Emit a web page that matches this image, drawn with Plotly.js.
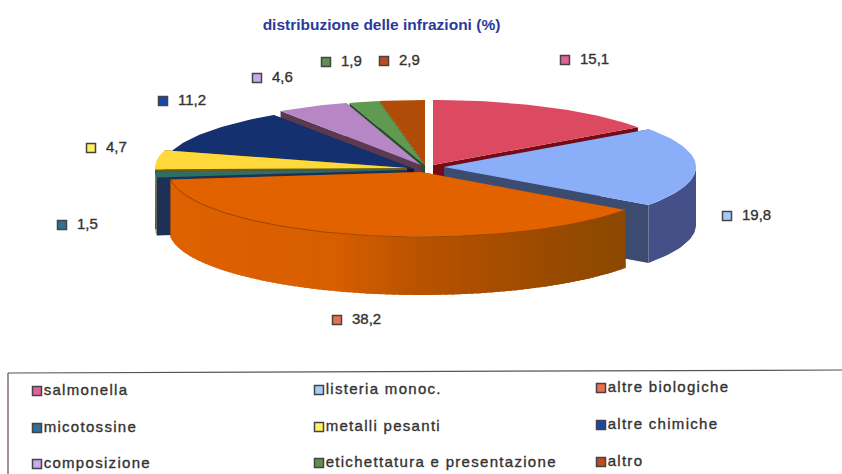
<!DOCTYPE html>
<html><head><meta charset="utf-8">
<script src="https://cdn.plot.ly/plotly-3.0.1.min.js"></script>
<style>
html,body{margin:0;padding:0;background:#fff}
#c{width:842px;height:474px}
.scatterlayer .textpoint text{stroke:#333;stroke-width:.35px}
.scatterlayer .trace.leg .textpoint text{letter-spacing:1.3px}
</style></head><body><div id="c"></div>
<script>
// data
const categories=["salmonella","listeria monoc.","altre biologiche","micotossine","metalli pesanti","altre chimiche","composizione","etichettatura e presentazione","altro"];
const values=[15.1,19.8,38.2,1.5,4.7,11.2,4.6,1.9,2.9];
const valueLabels=["15,1","19,8","38,2","1,5","4,7","11,2","4,6","1,9","2,9"];
// style
const topColors=["#DB4A60","#8AAEF8","#E26200","#2F6F62","#FFD83A","#14306E","#B786C4","#5F9A50","#B04C08"];
const radialWalls=["#780A18","#3C4C70","#7A3A00","#1C3058","#6E5E10","#0C1C40","#5A3A50","#24502A","#5A2A00"];
const outerWalls=["#780A18","#454F88","#E06200","#8A8450","#6E5E10","#0C1C40","#5A3A50","#24502A","#5A2A00"];
const markerColors=["#E0609A","#A8CCF8","#E8704A","#2F6F98","#FFF060","#1A45A8","#C8A8F0","#5F9050","#C04A20"];
// geometry
const rx=252,ry=65,depth=58;
const cxs=[433,444,421,407,407,414,421,424.5,425];
const cys=[165,167,172,170,168,169,165,165,165];
const drawOrder=[8,7,6,5,0,4,3,1,2];
const labelX=[565,727,337,62,91,163,257,326,384];
const labelY=[60,216,320,225,148,101,78,62,61];
const legendX=[37,319,601,37,319,601,37,319,601];
const legendY=[391,390,388,428,427,425,464,463,462];
const orangeStops=[[125.7,[138,72,0]],[150,[154,74,0]],[180,[184,82,0]],[200,[216,94,0]],[264,[224,98,0]]];

const total=values.reduce((a,b)=>a+b,0);
let acc=0;
const starts=[],ends=[];
values.forEach(v=>{starts.push(acc/total*360);acc+=v;ends.push(acc/total*360);});
const pt=(i,a,dz)=>{const r=a*Math.PI/180;return [cxs[i]+rx*Math.sin(r),cys[i]-ry*Math.cos(r)+(dz||0)];};
const arc=(i,a,b,dz)=>{const n=Math.max(2,Math.ceil(Math.abs(b-a)/1.5)),o=[];for(let k=0;k<=n;k++)o.push(pt(i,a+(b-a)*k/n,dz));return o;};
const traces=[];
const poly=(p,c,lw)=>traces.push({type:"scatter",mode:"lines",x:p.map(q=>q[0]),y:p.map(q=>q[1]),fill:"toself",fillcolor:c,line:{color:c,width:lw||0},showlegend:false,hoverinfo:"skip"});
const orangeAt=a=>{for(let k=0;k<orangeStops.length-1;k++){const s=orangeStops[k],e=orangeStops[k+1];if(a<=e[0]){const t=Math.max(0,(a-s[0])/(e[0]-s[0]));return "rgb("+s[1].map((v,j)=>Math.round(v+(e[1][j]-v)*t)).join(",")+")";}}return "rgb(224,98,0)";};
drawOrder.forEach(i=>{
  const a=starts[i],b=ends[i];
  const apex=[cxs[i],cys[i]],apexD=[cxs[i],cys[i]+depth];
  const w1=[apex,pt(i,a),pt(i,a,depth),apexD];
  const w2=[apex,pt(i,b),pt(i,b,depth),apexD];
  poly(w1,radialWalls[i]);poly(w2,radialWalls[i]);
  const l=Math.max(a,90),h=Math.min(b,270);
  if(h>l){
    if(i===2){
      for(let s=l;s<h;s+=1.5){const e=Math.min(s+2.5,h);
        poly(arc(i,s,e).concat(arc(i,e,s,depth)),orangeAt(s+0.75));}
    }else poly(arc(i,l,h).concat(arc(i,h,l,depth)),outerWalls[i]);
  }
  poly([apex].concat(arc(i,a,b)),topColors[i]);
  if(i===2)traces.push({type:"scatter",mode:"lines",x:arc(i,a,b).map(q=>q[0]),y:arc(i,a,b).map(q=>q[1]),line:{color:"#9A4A00",width:1},showlegend:false,hoverinfo:"skip"});
});
// value labels
traces.push({type:"scatter",mode:"markers+text",x:labelX,y:labelY,text:valueLabels.map(t=>"\u00a0\u00a0"+t),textposition:"middle right",cliponaxis:false,
  marker:{symbol:"square",size:9,color:markerColors,line:{color:"#444",width:1.5}},
  textfont:{family:"Liberation Sans, Arial, sans-serif",size:15,color:"#333"},showlegend:false,hoverinfo:"skip"});
// legend entries
traces.push({type:"scatter",mode:"markers+text",x:legendX,y:legendY,text:categories,textposition:"middle right",cliponaxis:false,
  marker:{symbol:"square",size:9,color:markerColors,line:{color:"#444",width:1.5}},
  textfont:{family:"Liberation Sans, Arial, sans-serif",size:15,color:"#333"},showlegend:false,hoverinfo:"skip"});
const ax=(r)=>({range:r,visible:false,fixedrange:true,showgrid:false,zeroline:false});
const layout={width:842,height:474,margin:{l:0,r:0,t:0,b:0},paper_bgcolor:"#fff",plot_bgcolor:"#fff",showlegend:false,
  title:{text:"<b>distribuzione delle infrazioni (%)</b>",x:381.5/842,xanchor:"center",y:1-25/474,yanchor:"middle",font:{family:"Liberation Sans, Arial, sans-serif",size:15.5,color:"#2A3A9A"}},
  xaxis:ax([0,842]),yaxis:ax([474,0]),
  shapes:[
   {type:"line",xref:"x",yref:"y",x0:8,y0:373,x1:842,y1:370,line:{color:"#555",width:1.2}},
   {type:"line",xref:"x",yref:"y",x0:8,y0:373,x1:8,y1:474,line:{color:"#6a4a4a",width:1.2}}
  ]};
Plotly.newPlot("c",traces,layout,{displayModeBar:false,staticPlot:true}).then(()=>{
  const ts=document.querySelectorAll(".scatterlayer .trace");
  ts[ts.length-1].classList.add("leg");
});
</script></body></html>
